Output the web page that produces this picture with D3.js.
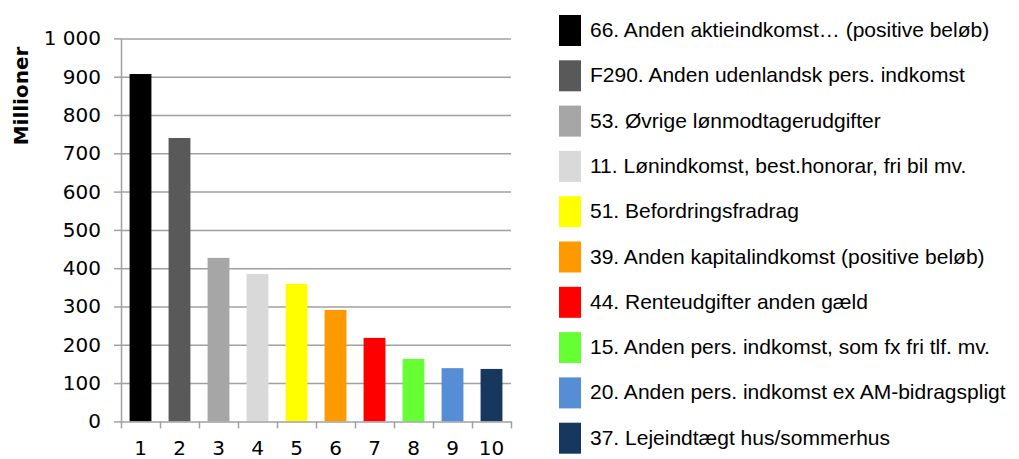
<!DOCTYPE html>
<html>
<head>
<meta charset="utf-8">
<script src="https://cdn.jsdelivr.net/npm/d3@7"></script>
<style>
  body { margin: 0; background: #fff; }
  svg text { fill: #000; }
</style>
</head>
<body>
<div id="chart"></div>
<script>
var categories = ["1", "2", "3", "4", "5", "6", "7", "8", "9", "10"];
var values = [907, 740, 427, 385, 359, 291, 218, 163, 139, 137];
var legendLabels = [
    "66. Anden aktieindkomst\u2026 (positive bel\u00f8b)",
    "F290. Anden udenlandsk pers. indkomst",
    "53. \u00d8vrige l\u00f8nmodtagerudgifter",
    "11. L\u00f8nindkomst, best.honorar, fri bil mv.",
    "51. Befordringsfradrag",
    "39. Anden kapitalindkomst (positive bel\u00f8b)",
    "44. Renteudgifter anden g\u00e6ld",
    "15. Anden pers. indkomst, som fx fri tlf. mv.",
    "20. Anden pers. indkomst ex AM-bidragspligt",
    "37. Lejeindt\u00e6gt hus/sommerhus"
];
var colors = ["#000000", "#595959", "#a6a6a6", "#d9d9d9", "#ffff00",
    "#ff9900", "#ff0000", "#66ff33", "#558ed5", "#17375e"];
var yTicks = [0, 100, 200, 300, 400, 500, 600, 700, 800, 900, 1000];

var w = 1019, h = 459;
var padLeft = 121, padRight = 511, padTop = 38.4, padBottom = 421.4;
var axisFont = "Verdana, 'DejaVu Sans', sans-serif";

var svg = d3.select("#chart").append("svg")
    .attr("width", w)
    .attr("height", h);

var locale = d3.formatLocale({ decimal: ",", thousands: " ", grouping: [3], currency: ["", ""] });
var fmt = locale.format(",d");

var yscale = d3.scaleLinear().domain([0, 1000]).range([padBottom, padTop]);
var xscale = d3.scaleBand().domain(categories).range([padLeft, padRight]).paddingInner(0.44).paddingOuter(0.22);
var xbound = d3.scaleLinear().domain([0, categories.length]).range([padLeft, padRight]);

// gridlines
svg.append("g")
    .attr("transform", "translate(" + padLeft + ",0)")
    .call(d3.axisLeft(yscale).tickValues(yTicks.slice(1)).tickSize(-(padRight - padLeft)).tickFormat(""))
    .call(function (g) {
        g.select(".domain").remove();
        g.selectAll("line").attr("stroke", "#a0a0a0").attr("stroke-width", 1.5);
    });

// bars
svg.selectAll("rect.bar")
    .data(values)
    .enter().append("rect")
    .attr("class", "bar")
    .attr("x", function (d, i) { return xscale(categories[i]); })
    .attr("width", xscale.bandwidth())
    .attr("y", function (d) { return yscale(d); })
    .attr("height", function (d) { return padBottom - yscale(d); })
    .attr("fill", function (d, i) { return colors[i]; });

// y axis
svg.append("g")
    .attr("transform", "translate(" + padLeft + ",0)")
    .call(d3.axisLeft(yscale).tickValues(yTicks).tickSize(7).tickSizeOuter(0).tickPadding(13).tickFormat(fmt))
    .call(function (g) {
        g.select(".domain").attr("stroke", "#a0a0a0").attr("stroke-width", 1.5);
        g.selectAll("line").attr("stroke", "#a0a0a0").attr("stroke-width", 1.5);
        g.selectAll("text").attr("font-family", axisFont).attr("font-size", 20).attr("fill", "#000");
    });

// x axis: boundary ticks
svg.append("g")
    .attr("transform", "translate(0," + padBottom + ")")
    .call(d3.axisBottom(xbound).tickValues(d3.range(categories.length + 1)).tickSize(7).tickSizeOuter(0).tickFormat(""))
    .call(function (g) {
        g.select(".domain").attr("stroke", "#a0a0a0").attr("stroke-width", 1.5);
        g.selectAll("line").attr("stroke", "#a0a0a0").attr("stroke-width", 1.5);
    });

// x axis labels
svg.append("g")
    .attr("transform", "translate(0," + padBottom + ")")
    .call(d3.axisBottom(xscale).tickSize(0).tickPadding(19))
    .call(function (g) {
        g.select(".domain").remove();
        g.selectAll("text").attr("font-family", axisFont).attr("font-size", 20).attr("fill", "#000");
    });

// y title
svg.append("text")
    .attr("transform", "translate(28,96) rotate(-90)")
    .attr("text-anchor", "middle")
    .attr("font-family", axisFont)
    .attr("font-weight", "bold")
    .attr("font-size", 20)
    .text("Millioner");

// legend
var legend = svg.selectAll("g.legend")
    .data(legendLabels)
    .enter().append("g")
    .attr("class", "legend")
    .attr("transform", function (d, i) { return "translate(559," + (15 + i * 45.3) + ")"; });

legend.append("rect")
    .attr("width", 22)
    .attr("height", 31)
    .attr("fill", function (d, i) { return colors[i]; });

legend.append("text")
    .attr("x", 31)
    .attr("y", 22)
    .attr("font-family", "Arial, 'Liberation Sans', sans-serif")
    .attr("font-size", 21)
    .text(function (d) { return d; });
</script>
</body>
</html>
